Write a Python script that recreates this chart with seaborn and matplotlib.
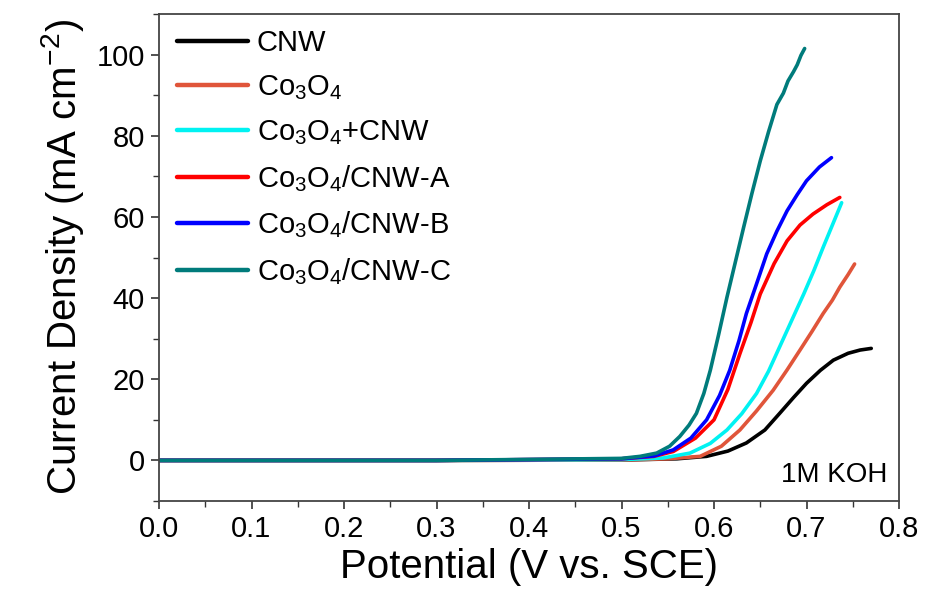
import matplotlib
matplotlib.use("Agg")
import matplotlib.pyplot as plt
from matplotlib.ticker import MultipleLocator
import seaborn as sns
import pandas as pd

# ---- data ----
series_names = ["CNW", "Co$_3$O$_4$", "Co$_3$O$_4$+CNW",
                "Co$_3$O$_4$/CNW-A", "Co$_3$O$_4$/CNW-B", "Co$_3$O$_4$/CNW-C"]
colors = ["#000000", "#e0553a", "#00f2f2", "#ff0000", "#0000ff", "#007b7b"]

cnw_v = [0.0, 0.3, 0.5, 0.56, 0.592, 0.615, 0.635, 0.655, 0.671, 0.686, 0.700, 0.715, 0.729, 0.745, 0.758, 0.770]
cnw_j = [0.0, 0.0, 0.1, 0.4, 1.0, 2.3, 4.3, 7.5, 11.6, 15.5, 19.0, 22.2, 24.7, 26.4, 27.2, 27.6]

co_v = [0.0, 0.3, 0.5, 0.55, 0.585, 0.608, 0.628, 0.646, 0.664, 0.679, 0.693, 0.706, 0.718, 0.728, 0.736, 0.745, 0.752]
co_j = [0.0, 0.0, 0.1, 0.4, 1.0, 3.5, 7.5, 12.2, 17.3, 22.3, 27.2, 31.8, 36.2, 39.5, 42.7, 45.8, 48.4]

mix_v = [0.0, 0.3, 0.5, 0.545, 0.574, 0.596, 0.614, 0.630, 0.646, 0.659, 0.671, 0.684, 0.697, 0.708, 0.718, 0.728, 0.738]
mix_j = [0.0, 0.0, 0.2, 0.6, 1.8, 4.2, 7.5, 11.5, 16.5, 22.0, 28.0, 34.5, 41.0, 46.8, 52.5, 58.0, 63.5]

a_v = [0.0, 0.3, 0.5, 0.535, 0.556, 0.580, 0.600, 0.615, 0.628, 0.640, 0.650, 0.665, 0.679, 0.693, 0.707, 0.722, 0.736]
a_j = [0.0, 0.0, 0.4, 1.0, 2.2, 5.5, 10.0, 17.5, 26.3, 34.0, 41.0, 48.5, 54.1, 58.0, 60.7, 63.0, 64.8]

b_v = [0.0, 0.3, 0.5, 0.535, 0.556, 0.575, 0.592, 0.606, 0.617, 0.627, 0.635, 0.646, 0.657, 0.668, 0.679, 0.690, 0.700, 0.714, 0.727]
b_j = [0.0, 0.0, 0.4, 1.1, 2.6, 5.5, 10.0, 16.0, 22.2, 29.5, 36.2, 43.5, 50.9, 56.5, 61.5, 65.5, 68.9, 72.3, 74.6]

c_v = [0.0, 0.3, 0.5, 0.52, 0.538, 0.552, 0.563, 0.573, 0.581, 0.589, 0.596, 0.605, 0.614, 0.623, 0.632, 0.641, 0.650, 0.659, 0.668, 0.675, 0.680, 0.686, 0.690, 0.694, 0.698]
c_j = [0.0, 0.0, 0.5, 1.0, 1.8, 3.5, 5.9, 8.7, 11.6, 16.5, 22.2, 31.0, 40.2, 48.8, 57.4, 65.8, 73.8, 81.0, 87.7, 90.5, 93.5, 95.8, 97.5, 99.8, 101.5]

series_v = [cnw_v, co_v, mix_v, a_v, b_v, c_v]
series_j = [cnw_j, co_j, mix_j, a_j, b_j, c_j]

x_ticks = [0.0, 0.1, 0.2, 0.3, 0.4, 0.5, 0.6, 0.7, 0.8]
y_ticks = [0, 20, 40, 60, 80, 100]
annotation = "1M KOH"

rows = []
for name, vs, js in zip(series_names, series_v, series_j):
    for i, (v, j) in enumerate(zip(vs, js)):
        rows.append({"Potential": v, "J": j, "Sample": name, "idx": i})
df = pd.DataFrame(rows)

# ---- style ----
sns.set_theme(style="ticks")
plt.rcParams["font.family"] = ["Liberation Sans", "DejaVu Sans"]
plt.rcParams["mathtext.fontset"] = "custom"
plt.rcParams["mathtext.rm"] = "Liberation Sans"
plt.rcParams["mathtext.it"] = "Liberation Sans"
plt.rcParams["mathtext.bf"] = "Liberation Sans"
plt.rcParams["text.color"] = "black"
plt.rcParams["axes.labelcolor"] = "black"
plt.rcParams["xtick.labelcolor"] = "black"
plt.rcParams["ytick.labelcolor"] = "black"

fig = plt.figure(figsize=(9.26, 5.96), dpi=100)
ax = fig.add_axes([159 / 926, 1 - 501 / 596, 740 / 926, 487 / 596])

sns.lineplot(data=df, x="Potential", y="J", hue="Sample", hue_order=series_names,
             palette=colors, sort=False, estimator=None, units="Sample",
             linewidth=2.6, ax=ax, legend=False)

ax.set_xlim(0.0, 0.8)
ax.set_ylim(-10, 110)
ax.set_xticks(x_ticks)
ax.set_xticklabels([f"{t:.1f}" for t in x_ticks])
ax.set_yticks(y_ticks)
ax.xaxis.set_minor_locator(MultipleLocator(0.05))
ax.yaxis.set_minor_locator(MultipleLocator(10))
ax.tick_params(which="major", direction="out", length=6, width=1.2, labelsize=21, pad=4,
               colors="#333333", labelcolor="black")
ax.tick_params(which="minor", direction="out", length=4, width=1.0, colors="#333333")
for s in ax.spines.values():
    s.set_visible(True)
    s.set_linewidth(1.3)
    s.set_color("#444444")

ax.set_xlabel("Potential (V vs. SCE)", fontsize=29, labelpad=4, color="black")
ax.set_ylabel("Current Density (mA cm$^{-2}$)", fontsize=29, labelpad=8, color="black")

handles = [plt.Line2D([], [], color=c, lw=3.2) for c in colors]
leg = ax.legend(handles, series_names, loc="upper left", bbox_to_anchor=(0.0, 1.005),
                frameon=False, fontsize=21, handlelength=2.45, handletextpad=0.3,
                labelspacing=0.55, borderaxespad=0.2)
for t in leg.get_texts():
    t.set_color("black")

ax.text(0.787, -5.2, annotation, ha="right", va="baseline", fontsize=20, color="black")

fig.savefig("out.png", dpi=100)
